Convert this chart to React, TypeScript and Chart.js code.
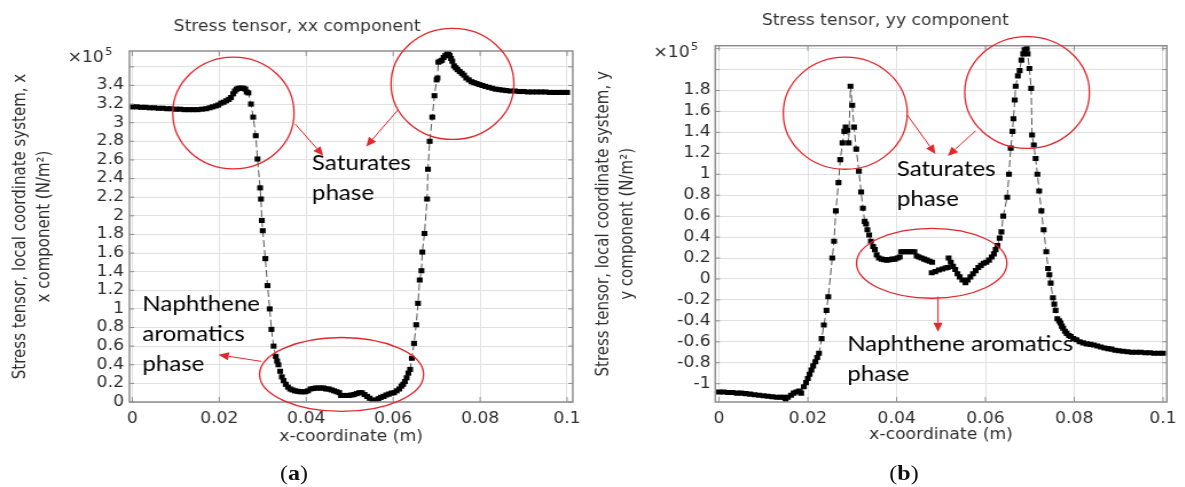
import React, { useEffect, useRef } from "react";
import { Chart, registerables } from "chart.js";

Chart.register(...registerables);

// ---------- data: panel (a) stress tensor xx ----------
const xxX = [
  0, 0.001, 0.002, 0.003, 0.004, 0.005, 0.006, 0.007, 0.008, 0.009, 0.01, 0.011, 0.012, 0.013, 0.014, 0.015,
  0.016, 0.017, 0.0178, 0.0185, 0.0192, 0.0198, 0.0204, 0.021, 0.0216, 0.0222, 0.0227, 0.0232, 0.0236, 0.024,
  0.0244, 0.0248, 0.0252, 0.0256, 0.026, 0.0263, 0.0267, 0.0273, 0.0278, 0.0284, 0.0288, 0.0294, 0.0296, 0.0298,
  0.03, 0.0306, 0.0311, 0.0316, 0.032, 0.0325, 0.033, 0.0333, 0.0336, 0.034, 0.0344, 0.0348, 0.0353, 0.0358,
  0.0363, 0.0368, 0.0374, 0.038, 0.0386, 0.0392, 0.0398, 0.0404, 0.041, 0.0416, 0.0422, 0.0428, 0.0434, 0.044,
  0.0446, 0.0452, 0.0458, 0.0464, 0.047, 0.0476, 0.048, 0.0486, 0.0492, 0.0498, 0.0504, 0.051, 0.0516, 0.0522,
  0.0528, 0.0534, 0.054, 0.0546, 0.0552, 0.0556, 0.056, 0.0566, 0.0572, 0.0578, 0.0584, 0.059, 0.0596, 0.0602,
  0.0608, 0.0614, 0.0619, 0.0623, 0.0627, 0.0631, 0.0635, 0.0639, 0.0643, 0.0648, 0.0653, 0.0657, 0.0661, 0.0665,
  0.0667, 0.0672, 0.0678, 0.068, 0.0684, 0.069, 0.0695, 0.07, 0.0702, 0.0704, 0.0708, 0.0712, 0.0716, 0.072,
  0.0724, 0.0727, 0.073, 0.0733, 0.0736, 0.074, 0.0744, 0.0748, 0.0753, 0.0758, 0.0763, 0.0768, 0.0774, 0.078,
  0.0786, 0.0792, 0.0798, 0.0805, 0.0812, 0.082, 0.0828, 0.0836, 0.0844, 0.0852, 0.086, 0.087, 0.088, 0.089,
  0.09, 0.091, 0.092, 0.093, 0.094, 0.095, 0.096, 0.097, 0.098, 0.099, 0.1,
];
const xxY = [
  3.17, 3.17, 3.165, 3.165, 3.16, 3.16, 3.155, 3.155, 3.15, 3.15, 3.145, 3.145, 3.14, 3.14, 3.14, 3.14,
  3.145, 3.15, 3.16, 3.17, 3.18, 3.19, 3.21, 3.22, 3.235, 3.25, 3.27, 3.31, 3.34, 3.36,
  3.37, 3.37, 3.37, 3.37, 3.36, 3.33, 3.32, 3.2, 3.06, 2.86, 2.61, 2.3, 2.18, 1.95,
  1.84, 1.54, 1.25, 1.0, 0.78, 0.6, 0.49, 0.44, 0.4, 0.33, 0.27, 0.23, 0.19, 0.16,
  0.14, 0.13, 0.12, 0.115, 0.11, 0.11, 0.11, 0.12, 0.14, 0.145, 0.15, 0.15, 0.15, 0.15,
  0.14, 0.14, 0.13, 0.12, 0.11, 0.1, 0.07, 0.07, 0.07, 0.07, 0.075, 0.08, 0.09, 0.1,
  0.1, 0.08, 0.06, 0.04, 0.02, 0.006, 0.02, 0.035, 0.05, 0.06, 0.075, 0.085, 0.095, 0.1,
  0.12, 0.14, 0.17, 0.19, 0.22, 0.26, 0.31, 0.35, 0.47, 0.63, 0.83, 1.06, 1.31, 1.41,
  1.61, 1.81, 2.18, 2.5, 2.8, 3.06, 3.29, 3.46, 3.48, 3.65, 3.66, 3.67, 3.7, 3.72,
  3.75, 3.74, 3.72, 3.69, 3.66, 3.61, 3.59, 3.57, 3.55, 3.53, 3.51, 3.48, 3.46, 3.44,
  3.43, 3.42, 3.41, 3.4, 3.39, 3.38, 3.37, 3.36, 3.355, 3.35, 3.345, 3.34, 3.34, 3.335,
  3.335, 3.33, 3.33, 3.33, 3.33, 3.33, 3.325, 3.325, 3.325, 3.325, 3.325,
];

// ---------- data: panel (b) stress tensor yy ----------
const yyX = [
  0, 0.001, 0.002, 0.003, 0.004, 0.005, 0.006, 0.007, 0.008, 0.009, 0.01, 0.011, 0.012, 0.013, 0.0138, 0.0145,
  0.015, 0.0155, 0.0162, 0.0168, 0.0174, 0.018, 0.0185, 0.0191, 0.0196, 0.02, 0.0204, 0.0208, 0.0212, 0.0217,
  0.0221, 0.0225, 0.0231, 0.0236, 0.0242, 0.0246, 0.0255, 0.0259, 0.0263, 0.0269, 0.0273, 0.0278, 0.0282, 0.0285,
  0.0289, 0.0292, 0.0296, 0.03, 0.0304, 0.0309, 0.0315, 0.032, 0.0324, 0.0328, 0.0331, 0.0334, 0.0338, 0.0342,
  0.0347, 0.0351, 0.0355, 0.036, 0.0366, 0.0372, 0.0378, 0.0384, 0.039, 0.0396, 0.0402, 0.0407, 0.041, 0.0416,
  0.0422, 0.0428, 0.0434, 0.044, 0.0445, 0.045, 0.0456, 0.0462, 0.0468, 0.0474, 0.048, 0.0481, 0.0479, 0.0487,
  0.0495, 0.0503, 0.051, 0.0515, 0.0517, 0.0522, 0.0527, 0.0532, 0.0537, 0.0542, 0.0548, 0.0555, 0.056, 0.0566,
  0.0572, 0.0578, 0.0584, 0.059, 0.0596, 0.0602, 0.0608, 0.0614, 0.0619, 0.0623, 0.0627, 0.0632, 0.0636, 0.064,
  0.0649, 0.0653, 0.0657, 0.0661, 0.0663, 0.0666, 0.0668, 0.0673, 0.0677, 0.0681, 0.0685, 0.0688, 0.0693, 0.0695,
  0.0699, 0.0703, 0.0705, 0.0709, 0.0713, 0.0717, 0.0721, 0.0726, 0.0731, 0.0737, 0.0741, 0.0744, 0.0747, 0.0752,
  0.0755, 0.0758, 0.0762, 0.0766, 0.0769, 0.0772, 0.0775, 0.0779, 0.0783, 0.0788, 0.0792, 0.0798, 0.0805, 0.0812,
  0.082, 0.0828, 0.0836, 0.0844, 0.0852, 0.086, 0.0868, 0.0876, 0.0884, 0.0892, 0.09, 0.091, 0.092, 0.093,
  0.094, 0.095, 0.096, 0.097, 0.098, 0.099, 0.1,
];
const yyY = [
  -1.08, -1.08, -1.085, -1.085, -1.09, -1.09, -1.095, -1.1, -1.105, -1.11, -1.115, -1.12, -1.125, -1.13, -1.13, -1.13,
  -1.16, -1.13, -1.11, -1.09, -1.08, -1.07, -1.09, -1.03, -0.99, -0.95, -0.91, -0.87, -0.83, -0.79,
  -0.75, -0.71, -0.57, -0.44, -0.3, -0.17, 0.2, 0.36, 0.65, 0.92, 1.14, 1.3, 1.41, 1.45,
  1.42, 1.3, 1.84, 1.66, 1.45, 1.24, 1.03, 0.83, 0.675, 0.55, 0.525, 0.47, 0.42, 0.36,
  0.31, 0.28, 0.23, 0.2, 0.19, 0.185, 0.18, 0.185, 0.19, 0.19, 0.2, 0.21, 0.26, 0.26,
  0.26, 0.26, 0.26, 0.26, 0.22, 0.21, 0.2, 0.19, 0.18, 0.17, 0.16, null, 0.06, 0.07,
  0.085, 0.095, 0.105, 0.11, 0.2, 0.16, 0.12, 0.09, 0.05, 0.02, -0.01, -0.035, -0.01, 0.02,
  0.05, 0.08, 0.11, 0.13, 0.15, 0.16, 0.18, 0.21, 0.24, 0.28, 0.32, 0.39, 0.45, 0.6,
  0.78, 1.0, 1.25, 1.41, 1.53, 1.71, 1.84, 1.94, 1.99, 2.09, 2.15, 2.19, 2.2, 2.15,
  2.01, 1.82, 1.375, 1.28, 1.15, 1.0, 0.84, 0.65, 0.47, 0.26, 0.1, 0.04, -0.04, -0.18,
  -0.24, -0.3, -0.38, -0.4, -0.42, -0.45, -0.47, -0.5, -0.52, -0.54, -0.55, -0.57, -0.58, -0.6,
  -0.61, -0.62, -0.625, -0.63, -0.64, -0.65, -0.66, -0.665, -0.67, -0.68, -0.685, -0.69, -0.695, -0.7,
  -0.7, -0.7, -0.705, -0.705, -0.71, -0.71, -0.71,
];

// ---------- axis / text definitions ----------
const titleA = "Stress tensor, xx component";
const titleB = "Stress tensor, yy component";
const yTitleA = ["Stress tensor, local coordinate system, x", "x component (N/m\u00B2)"];
const yTitleB = ["Stress tensor, local coordinate system, y", "y component (N/m\u00B2)"];
const xTitle = "x-coordinate (m)";
const hiddenYTicksA = [3.6];
const hiddenYTicksB = [2, 2.2];

type Ell = { cx: number; cy: number; rx: number; ry: number };
type Arr = { x1: number; y1: number; x2: number; y2: number };
type Txt = { x: number; y: number; lines: string[] };
type Ann = { ellipses: Ell[]; arrows: Arr[]; texts: Txt[] };

const annA: Ann = {
  ellipses: [
    { cx: 0.02326, cy: 3.104, rx: 0.01395, ry: 0.6 },
    { cx: 0.07364, cy: 3.416, rx: 0.01413, ry: 0.596 },
    { cx: 0.04814, cy: 0.296, rx: 0.01886, ry: 0.397 },
  ],
  arrows: [
    { x1: 0.03747, y1: 2.985, x2: 0.04393, y2: 2.645 },
    { x1: 0.06116, y1: 3.14, x2: 0.05382, y2: 2.745 },
    { x1: 0.02972, y1: 0.436, x2: 0.01982, y2: 0.508 },
  ],
  texts: [
    { x: 0.04134, y: 2.495, lines: ["Saturates", "phase"] },
    { x: 0.00233, y: 0.973, lines: ["Naphthene", "aromatics", "phase"] },
  ],
};

const annB: Ann = {
  ellipses: [
    { cx: 0.02843, cy: 1.583, rx: 0.01396, ry: 0.535 },
    { cx: 0.06937, cy: 1.781, rx: 0.01404, ry: 0.533 },
    { cx: 0.0479, cy: 0.15, rx: 0.01693, ry: 0.334 },
  ],
  arrows: [
    { x1: 0.04239, y1: 1.566, x2: 0.04873, y2: 1.194 },
    { x1: 0.05779, y1: 1.416, x2: 0.05152, y2: 1.175 },
    { x1: 0.04931, y1: -0.169, x2: 0.04931, y2: -0.503 },
  ],
  texts: [
    { x: 0.04003, y: 0.984, lines: ["Saturates", "phase"] },
    { x: 0.02886, y: -0.685, lines: ["Naphthene aromatics", "phase"] },
  ],
};

// the whole reference figure is stretched horizontally
const STRETCH = 1.1456;
const RED = "#e3262b";
const FRAME = "#8e8e8e";
const TXT = "#2e2e2e";
const AXIS_FONT = "'DejaVu Sans'";
const AXIS_SIZE = 15;

function makeOverlay(ann: Ann) {
  return {
    id: "overlay",
    afterDraw(chart: any) {
      const { ctx, chartArea: a, scales } = chart;
      const xs = scales.x;
      const ys = scales.y;
      const px = (v: number) => xs.getPixelForValue(v);
      const py = (v: number) => ys.getPixelForValue(v);
      ctx.save();
      // frame
      ctx.strokeStyle = FRAME;
      ctx.lineWidth = 1.5;
      ctx.strokeRect(a.left, a.top, a.right - a.left, a.bottom - a.top);
      // inward tick marks
      ctx.lineWidth = 1;
      ctx.beginPath();
      xs.ticks.forEach((t: any) => {
        const x = px(t.value);
        ctx.moveTo(x, a.bottom);
        ctx.lineTo(x, a.bottom - 5);
        ctx.moveTo(x, a.top);
        ctx.lineTo(x, a.top + 5);
      });
      ys.ticks.forEach((t: any) => {
        const y = py(t.value);
        ctx.moveTo(a.left, y);
        ctx.lineTo(a.left + 4, y);
        ctx.moveTo(a.right, y);
        ctx.lineTo(a.right - 4, y);
      });
      ctx.stroke();
      // exponent label
      ctx.fillStyle = TXT;
      ctx.textBaseline = "alphabetic";
      ctx.textAlign = "left";
      ctx.font = "15px 'DejaVu Sans'";
      const ex = a.left - 54;
      const ey = a.top + 11;
      ctx.fillText("\u00D710", ex, ey);
      const w = ctx.measureText("\u00D710").width;
      ctx.font = "10px 'DejaVu Sans'";
      ctx.fillText("5", ex + w + 1, ey - 7);
      // annotations
      ctx.strokeStyle = RED;
      ctx.fillStyle = RED;
      ctx.lineWidth = 1.3;
      ann.ellipses.forEach((e) => {
        const cx = px(e.cx);
        const cy = py(e.cy);
        const rx = Math.abs(px(e.cx + e.rx) - cx);
        const ry = Math.abs(py(e.cy + e.ry) - cy);
        ctx.beginPath();
        ctx.ellipse(cx, cy, rx, ry, 0, 0, Math.PI * 2);
        ctx.stroke();
      });
      ctx.lineWidth = 1;
      ann.arrows.forEach((r) => {
        const x1 = px(r.x1), y1 = py(r.y1), x2 = px(r.x2), y2 = py(r.y2);
        const ang = Math.atan2(y2 - y1, x2 - x1);
        const hl = 9, hw = 4;
        const bx = x2 - hl * Math.cos(ang);
        const by = y2 - hl * Math.sin(ang);
        ctx.beginPath();
        ctx.moveTo(x1, y1);
        ctx.lineTo(bx, by);
        ctx.stroke();
        ctx.beginPath();
        ctx.moveTo(x2, y2);
        ctx.lineTo(bx + hw * Math.sin(ang), by - hw * Math.cos(ang));
        ctx.lineTo(bx - hw * Math.sin(ang), by + hw * Math.cos(ang));
        ctx.closePath();
        ctx.fill();
      });
      ctx.fillStyle = "#000";
      ctx.font = "21px Lato";
      ann.texts.forEach((t) => {
        const x = px(t.x);
        const y = py(t.y);
        t.lines.forEach((l, i) => ctx.fillText(l, x, y + i * 30));
      });
      ctx.restore();
    },
  };
}

type PanelProps = {
  xs: number[];
  ys: (number | null)[];
  title: string;
  yTitle: string[];
  hidden: number[];
  ann: Ann;
  xMin: number;
  xMax: number;
  yMin: number;
  yMax: number;
  width: number;
  padLeft: number;
  padRight: number;
  yAxisWidth: number;
  titlePadTop: number;
  titlePadBottom: number;
  yTitlePad: number;
  xTitlePad: number;
  yTickPad: number;
};

function Panel(p: PanelProps) {
  const ref = useRef<HTMLCanvasElement | null>(null);
  useEffect(() => {
    if (!ref.current) return;
    const data = p.xs.map((x, i) => ({ x, y: p.ys[i] }));
    const chart = new Chart(ref.current, {
      type: "line",
      data: {
        datasets: [
          {
            data: data as any,
            borderColor: "#555",
            borderWidth: 1,
            borderDash: [7, 3],
            pointStyle: "rect",
            pointRadius: 3.6,
            pointBackgroundColor: "#000",
            pointBorderColor: "#000",
            pointBorderWidth: 0,
            spanGaps: false,
            tension: 0,
          },
        ],
      },
      options: {
        animation: false,
        responsive: false,
        devicePixelRatio: 1,
        layout: { padding: { left: p.padLeft, right: p.padRight, top: 0, bottom: 40 } },
        plugins: {
          legend: { display: false },
          tooltip: { enabled: false },
          title: {
            display: true,
            text: p.title,
            color: "#333",
            font: { family: AXIS_FONT, size: 15, weight: "normal", lineHeight: 1.2 },
            padding: { top: p.titlePadTop, bottom: p.titlePadBottom },
          },
        },
        scales: {
          x: {
            type: "linear",
            min: p.xMin,
            max: p.xMax,
            afterFit: (s: any) => {
              s.height = 45;
            },
            ticks: {
              stepSize: 0.02,
              includeBounds: false,
              autoSkip: false,
              padding: 8,
              color: TXT,
              font: { family: AXIS_FONT, size: AXIS_SIZE },
              maxRotation: 0,
              callback: (v: any) => String(Math.round(Number(v) * 100) / 100),
            },
            grid: { color: "#e0e0e0", drawTicks: false },
            border: { display: false },
            title: {
              display: true,
              text: xTitle,
              color: TXT,
              font: { family: AXIS_FONT, size: 15, lineHeight: 1.2 },
              padding: { top: 0, bottom: p.xTitlePad },
            },
          },
          y: {
            type: "linear",
            min: p.yMin,
            max: p.yMax,
            afterFit: (s: any) => {
              s.width = p.yAxisWidth;
            },
            ticks: {
              stepSize: 0.2,
              includeBounds: false,
              autoSkip: false,
              padding: p.yTickPad,
              color: TXT,
              font: { family: AXIS_FONT, size: AXIS_SIZE },
              callback: (v: any) => {
                const r = Math.round(Number(v) * 10) / 10;
                if (p.hidden.some((h) => Math.abs(h - r) < 1e-6)) return "";
                return String(r);
              },
            },
            grid: { color: "#e0e0e0", drawTicks: false },
            border: { display: false },
            title: {
              display: true,
              text: p.yTitle,
              color: TXT,
              font: { family: AXIS_FONT, size: 15, lineHeight: 1.4 },
              padding: { top: p.yTitlePad, bottom: 0 },
            },
          },
        },
      } as any,
      plugins: [makeOverlay(p.ann)],
    });
    return () => chart.destroy();
  }, []);
  return (
    <canvas
      ref={ref}
      width={p.width}
      height={487}
      style={{ display: "block", width: p.width * STRETCH, height: 487 }}
    />
  );
}

function Caption({ letter, center }: { letter: string; center: number }) {
  return (
    <div
      style={{
        position: "absolute",
        top: 461,
        left: center - 40,
        width: 80,
        textAlign: "center",
        fontFamily: "'Liberation Serif', serif",
        fontSize: 21,
        lineHeight: "24px",
        color: "#111",
        transform: `scaleX(${STRETCH})`,
      }}
    >
      (<b>{letter}</b>)
    </div>
  );
}

export default function App() {
  return (
    <div style={{ position: "absolute", left: 0, top: 0, width: 1185, height: 487, background: "#fff", overflow: "hidden" }}>
      <div style={{ position: "absolute", left: 0, top: 0 }}>
        <Panel
          xs={xxX}
          ys={xxY}
          title={titleA}
          yTitle={yTitleA}
          hidden={hiddenYTicksA}
          ann={annA}
          xMin={-0.00065}
          xMax={0.10131}
          yMin={0}
          yMax={3.77}
          width={515}
          padLeft={11}
          padRight={7.2}
          yAxisWidth={102}
          titlePadTop={18}
          titlePadBottom={15}
          yTitlePad={-3.6}
          xTitlePad={1.3}
          yTickPad={4.8}
        />
      </div>
      <div style={{ position: "absolute", left: 590, top: 0 }}>
        <Panel
          xs={yyX}
          ys={yyY}
          title={titleB}
          yTitle={yTitleB}
          hidden={hiddenYTicksB}
          ann={annB}
          xMin={-0.00085}
          xMax={0.10085}
          yMin={-1.175}
          yMax={2.228}
          width={520}
          padLeft={8.3}
          padRight={12.9}
          yAxisWidth={101}
          titlePadTop={12}
          titlePadBottom={15.7}
          yTitlePad={-6.8}
          xTitlePad={3}
          yTickPad={4}
        />
      </div>
      <Caption letter="a" center={294} />
      <Caption letter="b" center={904} />
    </div>
  );
}
